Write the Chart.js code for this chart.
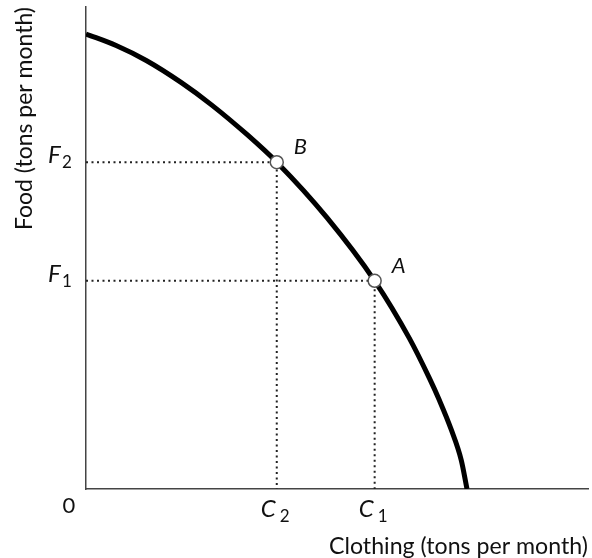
<!DOCTYPE html>
<html>
<head>
<meta charset="utf-8">
<script src="https://cdn.jsdelivr.net/npm/chart.js@4/dist/chart.umd.min.js"></script>
<style>
  html, body { margin: 0; padding: 0; background: #fff; }
  #wrap { width: 592px; height: 558px; position: relative; }
</style>
</head>
<body>
<div id="wrap"><canvas id="ppf"></canvas></div>
<script>
// Production possibilities frontier (arbitrary units, 0-100 on both axes)
const curveX = [0, 6, 12, 19, 25, 32, 38, 48, 57.5, 64.4, 68.4, 70.4, 72.8, 74.75, 75.9];
const curveY = [94.4, 92.0, 88.9, 84.3, 79.7, 73.6, 67.8, 56.3, 43.2, 31.3, 23.0, 18.4, 12.2, 6.0, 0];

// marked points
const pointNames = ["B", "A"];
const clothingValues = [38.0, 57.5];   // C2, C1
const foodValues = [67.8, 43.2];       // F2, F1
const clothingSubs = ["2", "1"];
const foodSubs = ["2", "1"];

const xTitle = "Clothing (tons per month)";
const yTitle = "Food (tons per month)";
const FONT = "Lato, 'DejaVu Sans', sans-serif";

const curveData = curveX.map((x, i) => ({ x: x, y: curveY[i] }));
const markData = clothingValues.map((x, i) => ({ x: x, y: foodValues[i] }));

// dotted guide lines: axis -> point -> axis
const guideSets = markData.map((p) => ({
  data: [{ x: 0, y: p.y }, { x: p.x, y: p.y }, { x: p.x, y: 0 }],
  showLine: true,
  borderColor: "#222",
  borderWidth: 2,
  borderDash: [2, 3.5],
  pointRadius: 0,
  fill: false,
  order: 3,
}));

const labelsPlugin = {
  id: "ppfLabels",
  afterDraw(chart) {
    const ctx = chart.ctx;
    const xs = chart.scales.x;
    const ys = chart.scales.y;
    const area = chart.chartArea;
    ctx.save();
    ctx.fillStyle = "#111";
    ctx.textBaseline = "alphabetic";
    ctx.textAlign = "left";

    // F labels on the food axis
    foodValues.forEach((v, i) => {
      const py = ys.getPixelForValue(v);
      ctx.font = "italic 24px " + FONT;
      ctx.fillText("F", area.left - 38, py + 1);
      ctx.font = "17px " + FONT;
      ctx.fillText(foodSubs[i], area.left - 24, py + 6);
    });

    // C labels on the clothing axis
    clothingValues.forEach((v, i) => {
      const px = xs.getPixelForValue(v);
      ctx.font = "italic 24px " + FONT;
      ctx.fillText("C", px - 16, area.bottom + 28);
      ctx.font = "17px " + FONT;
      ctx.fillText(clothingSubs[i], px + 3, area.bottom + 33);
    });

    // origin
    ctx.font = "22px " + FONT;
    ctx.textAlign = "center";
    ctx.fillText("0", area.left - 17, area.bottom + 24);

    // point names
    ctx.font = "italic 22px " + FONT;
    ctx.textAlign = "left";
    markData.forEach((p, i) => {
      const px = xs.getPixelForValue(p.x);
      const py = ys.getPixelForValue(p.y);
      ctx.fillText(pointNames[i], px + 17, py - 8);
    });

    // axis titles
    ctx.font = "24px " + FONT;
    ctx.textAlign = "right";
    ctx.fillText(xTitle, area.right, area.bottom + 65, 259);

    ctx.translate(32, 230);
    ctx.rotate(-Math.PI / 2);
    ctx.textAlign = "left";
    ctx.fillText(yTitle, 0, 0, 223);
    ctx.restore();
  },
};

new Chart(document.getElementById("ppf"), {
  type: "scatter",
  data: {
    datasets: [
      {
        data: markData,
        pointRadius: 6.5,
        pointHoverRadius: 6.5,
        pointBackgroundColor: "#fff",
        pointBorderColor: "#555",
        pointBorderWidth: 1.5,
        showLine: false,
        order: 1,
      },
      {
        data: curveData,
        showLine: true,
        borderColor: "#000",
        borderWidth: 5,
        cubicInterpolationMode: "monotone",
        pointRadius: 0,
        fill: false,
        order: 2,
      },
      ...guideSets,
    ],
  },
  options: {
    responsive: true,
    maintainAspectRatio: false,
    animation: false,
    events: [],
    layout: { autoPadding: false, padding: { left: 86, right: 4, top: 7, bottom: 69 } },
    plugins: {
      legend: { display: false },
      tooltip: { enabled: false },
      title: { display: false },
    },
    scales: {
      x: {
        type: "linear",
        min: 0,
        max: 100,
        ticks: { display: false },
        grid: { display: false, drawTicks: false },
        border: { display: true, color: "#444", width: 1.5 },
      },
      y: {
        type: "linear",
        min: 0,
        max: 100,
        ticks: { display: false },
        grid: { display: false, drawTicks: false },
        border: { display: true, color: "#444", width: 1.5 },
      },
    },
  },
  plugins: [labelsPlugin],
});
</script>
</body>
</html>
